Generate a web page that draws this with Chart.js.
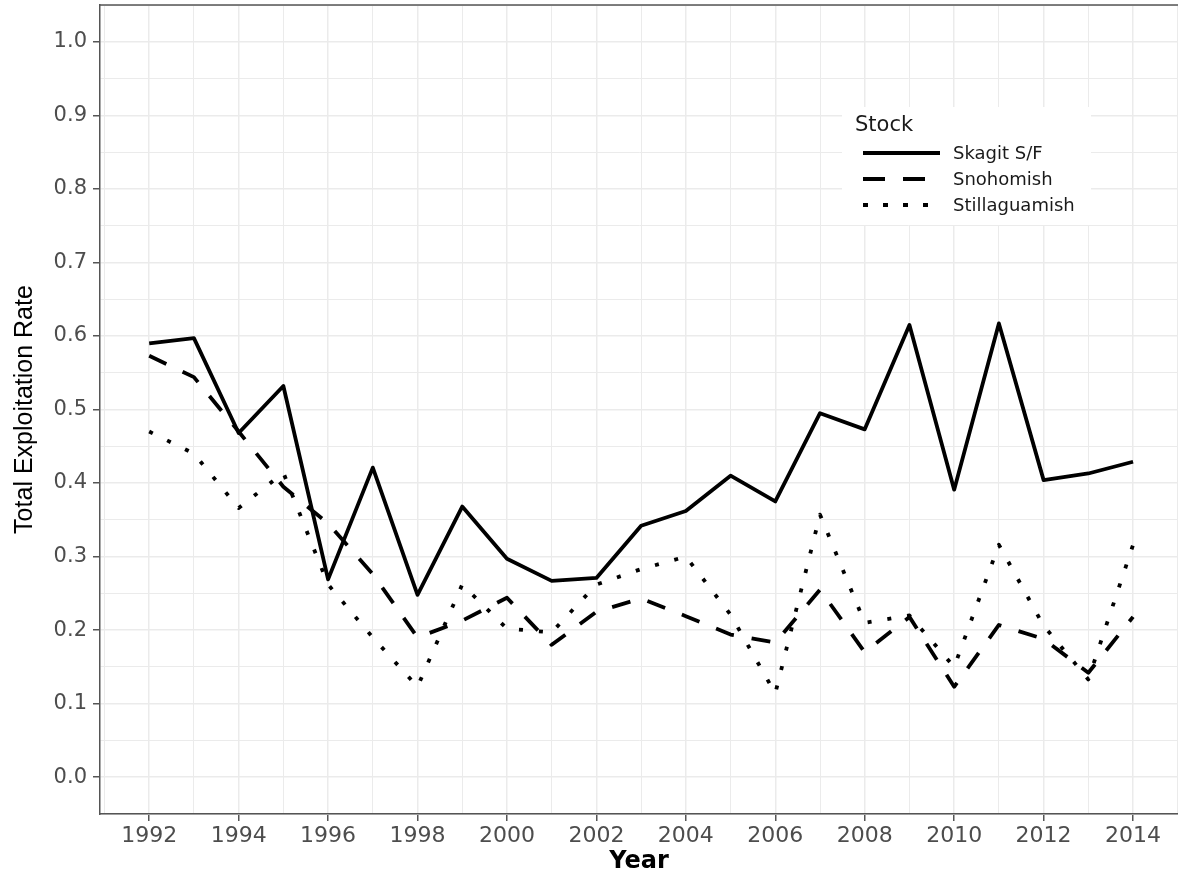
<script src="https://cdn.jsdelivr.net/npm/chart.js@4.4.7/dist/chart.umd.min.js"></script>

<style>
  body {
    margin: 0;
    background: #ffffff;
  }
  .chart-container {
    width: 1178px;
    height: 877px;
    position: relative;
  }
</style>

<div class="chart-container">
  <canvas id="chart"></canvas>
</div>

<script>
  // data
  const years = [1992, 1993, 1994, 1995, 1996, 1997, 1998, 1999, 2000, 2001, 2002, 2003,
    2004, 2005, 2006, 2007, 2008, 2009, 2010, 2011, 2012, 2013, 2014]
  const skagit = [0.590, 0.597, 0.468, 0.532, 0.269, 0.421, 0.248, 0.368, 0.297, 0.267, 0.271, 0.342,
    0.362, 0.410, 0.375, 0.495, 0.473, 0.615, 0.391, 0.617, 0.404, 0.413, 0.429]
  const snohomish = [0.573, 0.544, 0.470, 0.395, 0.345, 0.276, 0.190, 0.213, 0.244, 0.180, 0.225, 0.243,
    0.219, 0.194, 0.183, 0.255, 0.170, 0.218, 0.123, 0.207, 0.188, 0.142, 0.218]
  const stillaguamish = [0.470, 0.440, 0.366, 0.414, 0.262, 0.190, 0.123, 0.262, 0.202, 0.197, 0.262, 0.283,
    0.300, 0.221, 0.114, 0.357, 0.210, 0.220, 0.150, 0.316, 0.206, 0.133, 0.316]
  const stockNames = ['Skagit S/F', 'Snohomish', 'Stillaguamish']
  const yTicks = [0.0, 0.1, 0.2, 0.3, 0.4, 0.5, 0.6, 0.7, 0.8, 0.9, 1.0]

  const dashStyles = [[], [19, 18], [4, 16]]
  const keyDashStyles = [[], [22, 18], [5, 15]]
  const keyEnds = [940, 925, 930]
  const gridColor = '#ebebeb'
  const axisColor = '#555555'
  const tickTextColor = '#4d4d4d'

  function toPoints(values) {
    return years.map((yr, i) => ({ x: yr, y: values[i] }))
  }

  const seriesValues = [skagit, snohomish, stillaguamish]

  const data = {
    datasets: stockNames.map((name, i) => ({
      label: name,
      data: toPoints(seriesValues[i]),
      borderColor: '#000000',
      backgroundColor: '#000000',
      borderWidth: 3.8,
      borderDash: dashStyles[i],
      borderCapStyle: 'butt',
      borderJoinStyle: 'round',
      pointRadius: 0,
      tension: 0,
      fill: false,
      order: 2 - i
    }))
  }

  function isMajorY(v) {
    return Math.round(v * 100) % 10 === 0
  }
  function isMajorX(v) {
    return Math.round(v) % 2 === 0
  }

  /*
   * Legend drawn inside the panel, on a white key box
   */
  const insideLegend = {
    id: 'insideLegend',
    afterDatasetsDraw(chart) {
      const ctx = chart.ctx
      const area = chart.chartArea
      ctx.save()

      // top border of the panel
      ctx.strokeStyle = axisColor
      ctx.lineWidth = 1.5
      ctx.beginPath()
      ctx.moveTo(area.left, area.top)
      ctx.lineTo(area.right, area.top)
      ctx.stroke()

      ctx.fillStyle = '#ffffff'
      ctx.fillRect(842, 107, 249, 118)

      ctx.fillStyle = '#1a1a1a'
      ctx.textBaseline = 'middle'
      ctx.textAlign = 'left'
      ctx.font = '21px "DejaVu Sans"'
      ctx.fillText('Stock', 855, 126)

      ctx.font = '18px "DejaVu Sans"'
      const rowY = [153, 179, 205]
      for (let i = 0; i < stockNames.length; i++) {
        ctx.strokeStyle = '#000000'
        ctx.lineWidth = 3.8
        ctx.lineCap = 'butt'
        ctx.setLineDash(keyDashStyles[i])
        ctx.beginPath()
        ctx.moveTo(863, rowY[i])
        ctx.lineTo(keyEnds[i], rowY[i])
        ctx.stroke()
        ctx.setLineDash([])
        ctx.fillStyle = '#1a1a1a'
        ctx.fillText(stockNames[i], 953, rowY[i] + 1)
      }
      ctx.restore()
    }
  }

  const config = {
    type: 'line',
    data: data,
    options: {
      responsive: true,
      maintainAspectRatio: false,
      animation: false,
      layout: {
        padding: { top: 5, right: 0, left: 0, bottom: 0 }
      },
      plugins: {
        legend: { display: false },
        tooltip: { enabled: false }
      },
      scales: {
        x: {
          type: 'linear',
          min: 1990.9,
          max: 2015.005,
          afterFit(scale) {
            scale.height = 63
            scale.paddingLeft = 0
            scale.paddingRight = 0
          },
          border: { display: true, color: axisColor, width: 1.5 },
          grid: {
            color: gridColor,
            lineWidth: (ctx) => (ctx.tick && isMajorX(ctx.tick.value) ? 1.5 : 1),
            tickColor: (ctx) => (ctx.tick && isMajorX(ctx.tick.value) ? axisColor : 'rgba(0,0,0,0)'),
            tickLength: 7,
            tickWidth: 1.5
          },
          ticks: {
            stepSize: 1,
            includeBounds: false,
            autoSkip: false,
            maxRotation: 0,
            padding: 2,
            color: tickTextColor,
            font: { family: 'DejaVu Sans', size: 22 },
            callback: (v) => (years.includes(v) && isMajorX(v) ? String(v) : '')
          },
          title: {
            display: true,
            text: 'Year',
            color: '#000000',
            font: { family: 'DejaVu Sans', size: 24, weight: 'bold' },
            padding: { top: 0, bottom: 1 }
          }
        },
        y: {
          min: -0.05,
          max: 1.05,
          afterFit(scale) {
            scale.width = 100
            scale.paddingTop = 0
            scale.paddingBottom = 0
          },
          border: { display: true, color: axisColor, width: 1.5 },
          grid: {
            color: gridColor,
            lineWidth: (ctx) => (ctx.tick && isMajorY(ctx.tick.value) ? 1.5 : 1),
            tickColor: (ctx) => (ctx.tick && isMajorY(ctx.tick.value) ? axisColor : 'rgba(0,0,0,0)'),
            tickLength: 7,
            tickWidth: 1.5
          },
          ticks: {
            stepSize: 0.05,
            autoSkip: false,
            padding: 6,
            color: tickTextColor,
            font: { family: 'DejaVu Sans', size: 21 },
            callback: (v) => {
              const hit = yTicks.find((t) => Math.abs(t - v) < 1e-6)
              return hit === undefined ? '' : hit.toFixed(1)
            }
          },
          title: {
            display: true,
            text: 'Total Exploitation Rate',
            color: '#000000',
            font: { family: 'Liberation Sans', size: 25 },
            padding: { top: 10, bottom: 0 }
          }
        }
      }
    },
    plugins: [insideLegend]
  }

  const myChart = new Chart(document.getElementById('chart'), config)
</script>
